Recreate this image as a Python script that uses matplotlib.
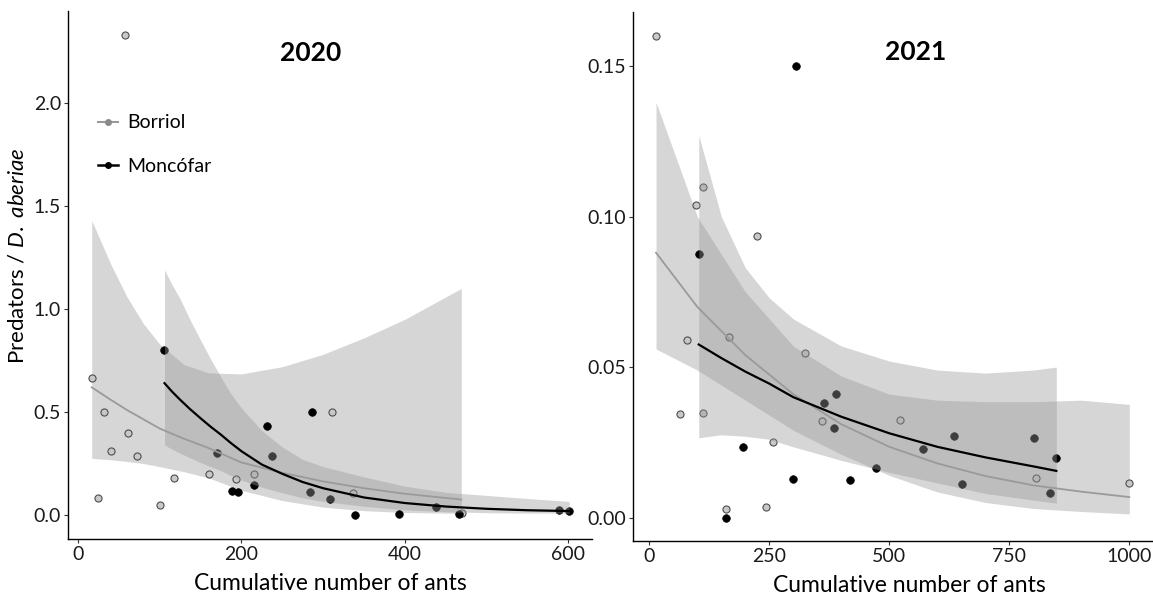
import matplotlib
matplotlib.use("Agg")
import matplotlib.pyplot as plt
from matplotlib.lines import Line2D

plt.rcParams['font.family'] = ['Lato', 'DejaVu Sans']
plt.rcParams['mathtext.fontset'] = 'custom'
plt.rcParams['mathtext.rm'] = 'Lato'
plt.rcParams['mathtext.it'] = 'Lato:italic'

# ---- 2020 observations ----
bor20_x = [17, 25, 32, 40, 58, 61, 72, 100, 118, 160, 193, 215, 311, 336, 470]
bor20_y = [0.666, 0.082, 0.50, 0.31, 2.33, 0.40, 0.286, 0.05, 0.178, 0.20, 0.173, 0.20, 0.50, 0.107, 0.01]
mon20_x = [106, 170, 189, 196, 215, 231, 237, 284, 286, 309, 339, 393, 438, 466, 589, 601]
mon20_y = [0.80, 0.30, 0.118, 0.114, 0.148, 0.43, 0.284, 0.114, 0.50, 0.078, 0.0, 0.007, 0.037, 0.006, 0.026, 0.021]

# ---- 2020 fitted curves ----
bor20_fit_x = [17, 40, 60, 80, 100, 130, 160, 200, 250, 300, 350, 400, 469]
bor20_fit = [0.62, 0.56, 0.51, 0.465, 0.42, 0.37, 0.325, 0.255, 0.205, 0.163, 0.13, 0.103, 0.075]
bor20_hi = [1.43, 1.22, 1.06, 0.93, 0.83, 0.73, 0.69, 0.685, 0.72, 0.78, 0.86, 0.95, 1.10]
bor20_lo = [0.275, 0.268, 0.26, 0.25, 0.235, 0.21, 0.18, 0.12, 0.07, 0.038, 0.021, 0.012, 0.008]

mon20_fit_x = [106, 115, 125, 137, 150, 162, 175, 187, 200, 225, 250, 275, 300, 350, 400, 450, 500, 550, 601]
mon20_fit = [0.64, 0.60, 0.56, 0.515, 0.47, 0.43, 0.39, 0.35, 0.31, 0.245, 0.20, 0.16, 0.13, 0.085, 0.058, 0.041, 0.030, 0.023, 0.019]
mon20_hi = [1.19, 1.12, 1.05, 0.95, 0.85, 0.76, 0.67, 0.59, 0.52, 0.41, 0.33, 0.27, 0.235, 0.185, 0.14, 0.11, 0.095, 0.08, 0.066]
mon20_lo = [0.34, 0.32, 0.30, 0.278, 0.255, 0.235, 0.215, 0.192, 0.17, 0.135, 0.108, 0.083, 0.066, 0.042, 0.025, 0.016, 0.011, 0.009, 0.009]

# ---- 2021 observations ----
bor21_x = [14, 64, 79, 98, 111, 112, 159, 166, 224, 243, 257, 324, 360, 522, 805, 1000]
bor21_y = [0.160, 0.0343, 0.059, 0.104, 0.0346, 0.110, 0.0027, 0.0601, 0.0935, 0.0035, 0.0252, 0.0546, 0.0321, 0.0324, 0.0131, 0.0116]
mon21_x = [103, 159, 196, 300, 305, 363, 385, 389, 419, 472, 570, 634, 651, 801, 834, 848]
mon21_y = [0.0875, 0.0, 0.0236, 0.0127, 0.150, 0.0381, 0.0297, 0.0409, 0.0125, 0.0163, 0.0228, 0.0271, 0.0111, 0.0265, 0.0082, 0.0199]

# ---- 2021 fitted curves ----
bor21_fit_x = [14, 100, 200, 300, 400, 500, 600, 700, 800, 900, 1000]
bor21_fit = [0.088, 0.070, 0.054, 0.041, 0.031, 0.0235, 0.018, 0.0138, 0.0107, 0.0086, 0.0068]
bor21_hi = [0.138, 0.100, 0.075, 0.057, 0.047, 0.041, 0.039, 0.0385, 0.0385, 0.039, 0.0376]
bor21_lo = [0.056, 0.049, 0.039, 0.029, 0.021, 0.014, 0.0085, 0.005, 0.003, 0.002, 0.0012]

mon21_fit_x = [103, 150, 200, 250, 300, 400, 500, 600, 700, 800, 848]
mon21_fit = [0.0575, 0.053, 0.0485, 0.0445, 0.040, 0.0335, 0.028, 0.0235, 0.020, 0.017, 0.0155]
mon21_hi = [0.127, 0.100, 0.083, 0.073, 0.066, 0.057, 0.052, 0.049, 0.048, 0.049, 0.050]
mon21_lo = [0.0265, 0.0275, 0.027, 0.026, 0.0235, 0.019, 0.015, 0.0115, 0.008, 0.0058, 0.0048]

BAND = '#999999'
BOR_LINE = '#9a9a9a'


def panel(ax, bx, by, mx, my, bfx, bf, bhi, blo, mfx, mf, mhi, mlo):
    # Borriol band sits under the points, Moncofar band over them (as in the source)
    ax.fill_between(bfx, blo, bhi, color=BAND, alpha=0.4, lw=0, zorder=1)
    ax.scatter(bx, by, s=26, facecolor='#c8c8c8', edgecolor='#4d4d4d', linewidth=0.8, zorder=2)
    ax.scatter(mx, my, s=30, facecolor='black', edgecolor='black', linewidth=0.5, zorder=2)
    ax.fill_between(mfx, mlo, mhi, color=BAND, alpha=0.4, lw=0, zorder=3)
    ax.plot(bfx, bf, color=BOR_LINE, lw=1.3, zorder=4)
    ax.plot(mfx, mf, color='black', lw=1.6, zorder=4)
    for s in ['top', 'right']:
        ax.spines[s].set_visible(False)
    for s in ['left', 'bottom']:
        ax.spines[s].set_linewidth(1.0)
        ax.spines[s].set_color('black')
    ax.tick_params(length=3, width=0.8, color='#333333', labelsize=14, labelcolor='#1a1a1a', pad=2)
    ax.set_xlabel('Cumulative number of ants', fontsize=16.5, labelpad=8)


fig = plt.figure(figsize=(11.53, 5.97), dpi=100)
ax1 = fig.add_axes([0.059, 0.0972, 0.4545, 0.8836])
ax2 = fig.add_axes([0.549, 0.0943, 0.450, 0.8856])

panel(ax1, bor20_x, bor20_y, mon20_x, mon20_y,
      bor20_fit_x, bor20_fit, bor20_hi, bor20_lo,
      mon20_fit_x, mon20_fit, mon20_hi, mon20_lo)
ax1.set_xlim(-12, 629)
ax1.set_ylim(-0.1165, 2.445)
ax1.set_xticks([0, 200, 400, 600])
ax1.set_yticks([0.0, 0.5, 1.0, 1.5, 2.0])
ax1.set_yticklabels(['0.0', '0.5', '1.0', '1.5', '2.0'])
ax1.text(0.462, 0.921, '2020', transform=ax1.transAxes, ha='center', va='center',
         fontsize=19, fontweight='bold')
fig.text(18 / 1153, 1 - 256 / 597, 'Predators / $\\mathit{D.\\ aberiae}$', rotation=90,
         ha='center', va='center', fontsize=16)

handles = [Line2D([], [], color=BOR_LINE, lw=1.5, marker='o', ms=4, mfc='#8a8a8a', mec='#8a8a8a'),
           Line2D([], [], color='black', lw=1.8, marker='o', ms=4, mfc='black', mec='black')]
ax1.legend(handles, ['Borriol', 'Moncófar'], loc='upper left', bbox_to_anchor=(0.058, 0.805),
           frameon=False, fontsize=14, handlelength=1.0, handletextpad=0.5,
           labelspacing=1.35, borderpad=0, borderaxespad=0)

panel(ax2, bor21_x, bor21_y, mon21_x, mon21_y,
      bor21_fit_x, bor21_fit, bor21_hi, bor21_lo,
      mon21_fit_x, mon21_fit, mon21_hi, mon21_lo)
ax2.set_xlim(-34, 1047)
ax2.set_ylim(-0.0077, 0.168)
ax2.set_xticks([0, 250, 500, 750, 1000])
ax2.set_yticks([0.0, 0.05, 0.10, 0.15])
ax2.set_yticklabels(['0.00', '0.05', '0.10', '0.15'])
ax2.xaxis.set_label_coords(0.532, -0.065)
ax1.xaxis.set_label_coords(0.5, -0.065)
ax2.text(0.545, 0.924, '2021', transform=ax2.transAxes, ha='center', va='center',
         fontsize=19, fontweight='bold')

fig.savefig('out.png', dpi=100)
